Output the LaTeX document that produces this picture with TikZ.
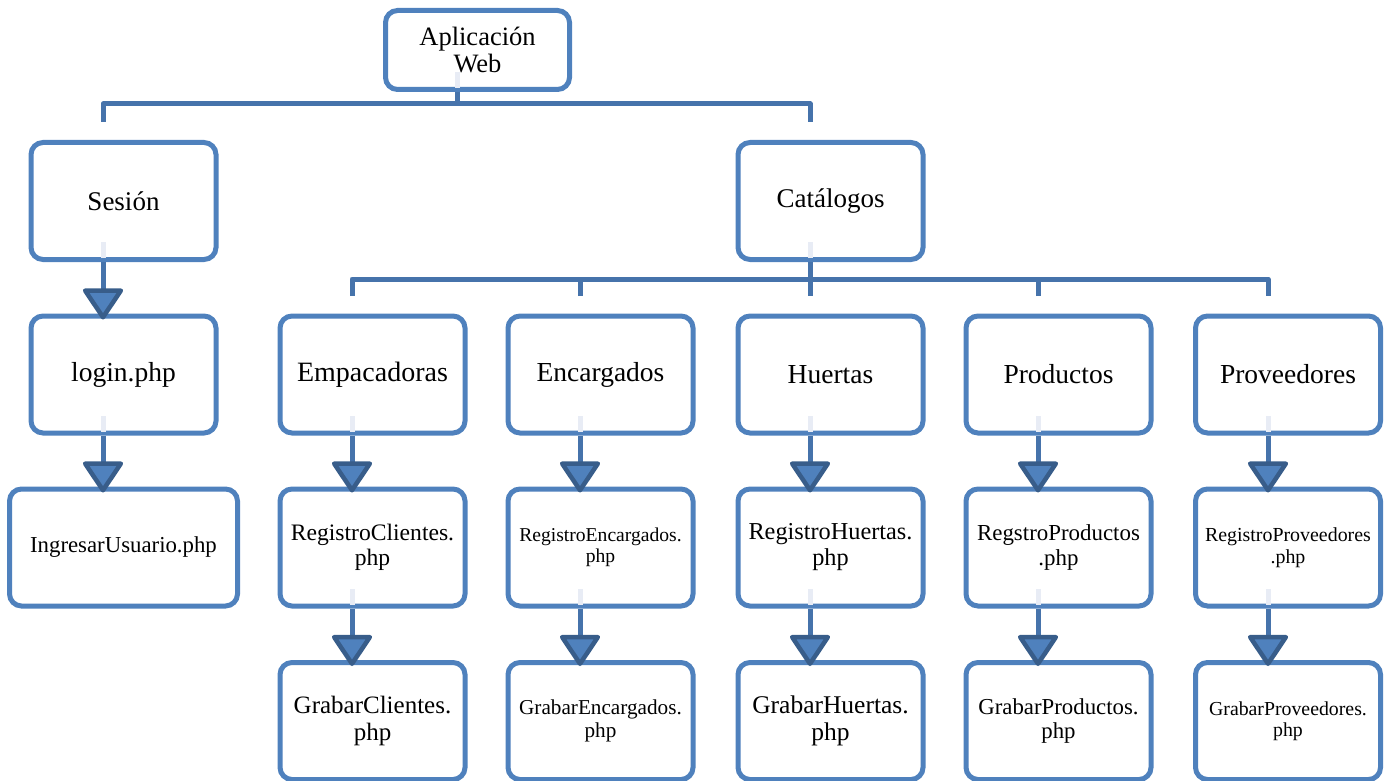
\documentclass[tikz,border=0pt]{standalone}
\usepackage{fontspec}
\setmainfont{Liberation Serif}
\usetikzlibrary{arrows.meta}
\definecolor{boxblue}{HTML}{4F81BD}
\definecolor{linkblue}{HTML}{4673AB}
\definecolor{tipdark}{HTML}{385D8A}
\definecolor{paleblue}{HTML}{E8ECF5}
\newcommand\fsz[2]{\fontsize{#1}{#2}\selectfont}
\tikzset{
  box/.style={draw=boxblue, line width=5pt, fill=white, rounded corners=12pt,
    minimum width=185pt, minimum height=117pt, inner sep=0pt, align=center, text=black},
  bus/.style={draw=linkblue, line width=5pt, line join=round},
  arr/.style={draw=linkblue, line width=5pt,
    -{Triangle[width=43pt,length=33pt,round,color=tipdark,fill=boxblue,line width=4.5pt]},
    shorten >=-6pt},
  pale/.style={draw=paleblue, line width=5pt},
}
\begin{document}
\begin{tikzpicture}[x=1pt,y=-1pt]
\useasboundingbox (0,0) rectangle (1385,781);
% column coordinates
\coordinate (c0) at (103,0);
\coordinate (c1) at (352,0);
\coordinate (c2) at (580,0);
\coordinate (c3) at (810,0);
\coordinate (c4) at (1038,0);
\coordinate (c5) at (1268,0);
% boxes
\node[box, minimum width=184pt, minimum height=79pt, font=\fsz{26.5}{27.5}] (app) at (477.5,50) {Aplicación\\Web};
\node[box, font=\fsz{27}{29}] (ses) at (123.5,201) {Sesión};
\node[box, font=\fsz{27}{29}] (cat) at (830.5,201) {Catálogos};
\node[box, font=\fsz{27.5}{29}] (login) at (123.5,374.5) {login.php};
\node[box, font=\fsz{28}{29}] (emp) at (372.5,374.5) {Empacadoras};
\node[box, font=\fsz{27.5}{29}] (enc) at (600.5,374.5) {Encargados};
\node[box, font=\fsz{27.5}{29}] (hue) at (830.5,374.5) {Huertas};
\node[box, font=\fsz{27.5}{29}] (pro) at (1058.5,374.5) {Productos};
\node[box, font=\fsz{27.5}{29}] (prv) at (1288,374.5) {Proveedores};
\node[box, minimum width=228pt, font=\fsz{22.8}{24.5}] (ing) at (123.5,547.5) {IngresarUsuario.php};
\node[box, font=\fsz{23.6}{25.5}] (regc) at (372.5,547.5) {RegistroClientes.\\php};
\node[box, font=\fsz{19.6}{21.5}] (rege) at (600.5,547.5) {RegistroEncargados.\\php};
\node[box, font=\fsz{24.3}{26}] (regh) at (830.5,547.5) {RegistroHuertas.\\php};
\node[box, font=\fsz{22.9}{24.5}] (regp) at (1058.5,547.5) {RegstroProductos\\.php};
\node[box, font=\fsz{19.9}{21.5}] (regv) at (1288,547.5) {RegistroProveedores\\.php};
\node[box, font=\fsz{25}{26.5}] (grc) at (372.5,721) {GrabarClientes.\\php};
\node[box, font=\fsz{21.2}{23}] (gre) at (600.5,721) {GrabarEncargados.\\php};
\node[box, font=\fsz{25.5}{27}] (grh) at (830.5,721) {GrabarHuertas.\\php};
\node[box, font=\fsz{22.8}{24.5}] (grp) at (1058.5,721) {GrabarProductos.\\php};
\node[box, font=\fsz{19.8}{21.5}] (grv) at (1288,721) {GrabarProveedores.\\php};
% bus coordinates
\coordinate (appj) at (457,104);
\coordinate (s0) at (103,122);
\coordinate (s3) at (810,122);
\coordinate (b2) at (810,279);
\coordinate (r1) at (352,296);
\coordinate (r2) at (580,296);
\coordinate (r3) at (810,296);
\coordinate (r4) at (1038,296);
\coordinate (r5) at (1268,296);
% pale inner stubs
\foreach \n/\c in {app/appj, ses/c0, cat/c3, login/c0, emp/c1, enc/c2, hue/c3, pro/c4, prv/c5,
                   regc/c1, rege/c2, regh/c3, regp/c4, regv/c5}
  \draw[pale] (\n.south -| \c) ++(0,-4) -- ++(0,-16);
% top bus
\draw[bus] (app.south -| appj) -- (appj);
\draw[bus] (s0) |- (s3 |- appj) -- (s3);
% second bus
\draw[bus] (r1) |- (r5 |- b2) -- (r5);
\draw[bus] (r2) -- (r2 |- b2);
\draw[bus] (r4) -- (r4 |- b2);
\draw[bus] (cat.south -| c3) -- (r3);
% arrows
\draw[arr] (ses.south -| c0) -- (login.north -| c0);
\draw[arr] (login.south -| c0) -- (ing.north -| c0);
\draw[arr] (emp.south -| c1) -- (regc.north -| c1);
\draw[arr] (enc.south -| c2) -- (rege.north -| c2);
\draw[arr] (hue.south -| c3) -- (regh.north -| c3);
\draw[arr] (pro.south -| c4) -- (regp.north -| c4);
\draw[arr] (prv.south -| c5) -- (regv.north -| c5);
\draw[arr] (regc.south -| c1) -- (grc.north -| c1);
\draw[arr] (rege.south -| c2) -- (gre.north -| c2);
\draw[arr] (regh.south -| c3) -- (grh.north -| c3);
\draw[arr] (regp.south -| c4) -- (grp.north -| c4);
\draw[arr] (regv.south -| c5) -- (grv.north -| c5);
\end{tikzpicture}
\end{document}
